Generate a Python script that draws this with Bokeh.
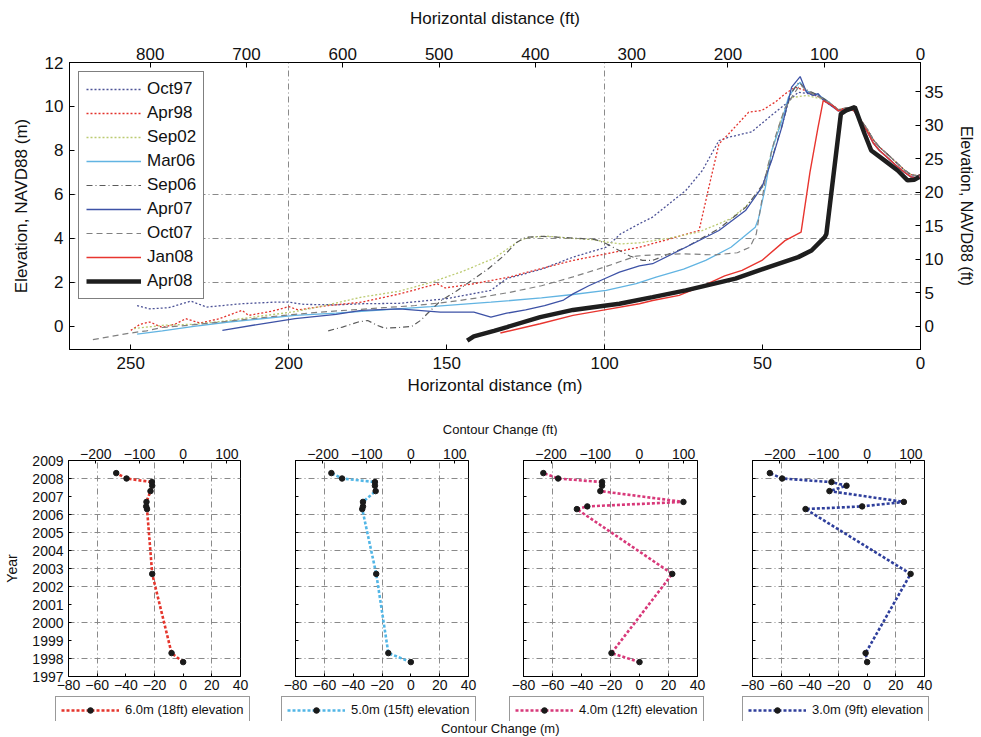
from bokeh.plotting import figure
from bokeh.models import Range1d, LinearAxis, FixedTicker, Legend, LegendItem, Label
from bokeh.layouts import column, row
from bokeh.embed import file_html
from bokeh.resources import INLINE

FONT = "Liberation Sans"
M2FT = 3.28084

# ---------------- top chart: horizontal distance (m) vs elevation (m) ----------------
tail_old_x = [26, 23, 21, 19, 17, 15, 13, 11, 8, 5, 3, 1, 0]
tail_old_z = [9.85, 9.95, 9.85, 9.4, 9.0, 8.5, 8.15, 7.9, 7.5, 7.1, 6.9, 6.85, 6.9]
tail_new_x = [26, 23, 21, 19, 17, 15, 13, 11, 8, 5, 3, 1, 0]
tail_new_z = [9.8, 9.9, 9.8, 9.3, 8.9, 8.35, 8.0, 7.75, 7.35, 7.0, 6.8, 6.75, 6.8]

oct97_x = [248, 244, 238, 231, 226, 215, 205, 200, 195, 185, 177, 165, 150, 136, 131, 120, 110, 99.5, 95, 89,
           84.8, 74.3, 69, 63.8, 60.7, 53.4, 48, 42.8, 38.7, 36, 32, 29] + tail_old_x
oct97_z = [0.95, 0.8, 0.85, 1.15, 0.88, 1.03, 1.1, 1.1, 1.0, 0.98, 1.03, 1.05, 1.26, 1.64, 2.17, 2.6, 3.15, 3.6, 4.2, 4.67,
           4.97, 6.18, 7.1, 8.45, 8.6, 8.85, 9.5, 10.1, 10.65, 10.6, 10.45, 10.1] + tail_old_z

apr98_x = [250, 247, 244, 240, 236, 232.6, 228, 222, 214.8, 212.7, 205, 200, 197, 187.5, 177, 164.5, 153, 150.5, 148, 141.4,
           130, 120.4, 110, 99.5, 89, 80, 70.1, 67, 63.8, 60.7, 54.4, 50.2, 46, 42.8, 39.7, 37, 33, 29] + tail_old_x
apr98_z = [-0.18, 0.1, 0.2, -0.05, 0.1, 0.35, 0.15, 0.35, 0.73, 0.5, 0.7, 0.9, 0.75, 0.95, 1.1, 1.49, 1.94, 1.75, 1.8, 1.94,
           2.25, 2.62, 3.0, 3.3, 3.6, 3.95, 4.36, 6.33, 8.3, 8.76, 9.74, 9.82, 10.2, 10.58, 10.88, 10.75, 10.5, 10.2] + tail_old_z

sep02_x = [249, 240, 230, 220, 210, 199, 190, 177, 165, 155, 145, 135, 127, 124, 118, 110, 104, 100, 95, 89,
           80, 70, 60, 55, 50, 47, 44, 41, 36, 30] + tail_old_x
sep02_z = [-0.1, 0.05, 0.1, 0.25, 0.45, 0.65, 0.9, 1.33, 1.6, 2.0, 2.5, 3.1, 3.9, 4.05, 4.1, 4.0, 3.95, 3.85, 3.75, 3.8,
           4.0, 4.3, 4.9, 5.5, 6.3, 8.0, 9.5, 10.4, 10.5, 10.3] + tail_old_z

mar06_x = [248, 240, 230, 219, 198, 185, 170, 155, 136, 120, 110, 99.5, 90, 83.7, 75, 68, 60, 52.3, 51.3, 49.1,
           47.1, 44, 41.8, 39.7, 38.1, 36, 32, 29] + tail_new_x
mar06_z = [-0.35, -0.2, 0.0, 0.2, 0.5, 0.6, 0.75, 0.9, 1.1, 1.3, 1.45, 1.64, 1.95, 2.24, 2.6, 3.0, 3.6, 4.51, 4.9, 6.33,
           8.0, 9.3, 10.42, 10.88, 11.1, 10.7, 10.5, 10.2] + tail_new_z

sep06_x = [187.5, 183, 178, 175, 172, 169.7, 165, 161, 158, 156, 152, 147, 142, 137, 132, 128, 125, 120, 114, 108,
           103, 100, 96, 92, 88, 84.8, 74.3, 63.8, 55.4, 50.2, 47.1, 43.9, 41, 38.5, 36, 33, 30] + tail_old_x
sep06_z = [-0.2, -0.03, 0.2, 0.27, 0.05, -0.08, -0.05, 0.0, 0.3, 0.6, 1.15, 1.6, 2.1, 2.6, 3.2, 3.8, 4.05, 4.1, 4.05, 4.0,
           3.95, 3.8, 3.5, 3.2, 3.0, 3.0, 3.6, 4.45, 5.4, 6.4, 7.6, 9.1, 10.6, 11.1, 10.75, 10.55, 10.3] + tail_old_z

apr07_x = [221, 208.5, 198, 185, 177, 165, 152, 141.4, 136, 131, 125, 119, 113, 110, 105, 99.5, 95.3, 89, 84.8, 74.3,
           63.8, 55.4, 50.2, 47.1, 43.9, 40.8, 38.1, 36.1, 34, 32.4, 30.8] + tail_new_x
apr07_z = [-0.18, 0.12, 0.35, 0.55, 0.73, 0.8, 0.65, 0.65, 0.42, 0.6, 0.75, 0.95, 1.2, 1.48, 1.85, 2.2, 2.47, 2.75, 2.85, 3.6,
           4.36, 5.27, 6.33, 7.55, 9.06, 10.88, 11.36, 10.65, 10.5, 10.58, 10.3] + tail_new_z

oct07_x = [262, 256, 250, 245, 240, 232, 225, 215, 205, 198, 190, 180, 170, 160, 150, 140, 130, 120, 110, 100,
           95, 90, 85, 75, 65, 58, 54, 52, 50.5, 48.5, 46, 43, 40, 38, 36, 33, 30] + tail_old_x
oct07_z = [-0.6, -0.45, -0.3, -0.2, -0.05, 0.05, 0.15, 0.3, 0.45, 0.55, 0.65, 0.75, 0.85, 0.95, 1.1, 1.3, 1.55, 1.85, 2.25, 2.7,
           2.95, 3.2, 3.25, 3.3, 3.25, 3.35, 3.6, 4.2, 5.5, 7.2, 8.6, 9.9, 10.6, 11.0, 10.7, 10.5, 10.3] + tail_old_z

jan08_x = [133, 131, 120.4, 110, 100, 89, 84.8, 76.4, 68, 62, 56.5, 50.2, 42.9, 37.8, 35, 32.5, 30.8, 28] + tail_new_x
jan08_z = [-0.3, -0.23, 0.12, 0.5, 0.75, 1.03, 1.18, 1.41, 1.9, 2.3, 2.55, 3.0, 3.9, 4.29, 7.0, 9.0, 10.27, 10.05] + tail_new_z

apr08_x = [143.5, 141.4, 135, 130.9, 120.4, 110, 99.5, 95.3, 84.8, 74.3, 58.6, 48.1, 38.7, 34.5, 30.3, 29.8,
           25.2, 23.5, 20.8, 17.7, 15.6, 11.4, 7.2, 4.1, 2.0, 0.4]
apr08_z = [-0.65, -0.45, -0.2, -0.03, 0.42, 0.75, 0.95, 1.03, 1.33, 1.64, 2.17, 2.70, 3.15, 3.45, 4.06, 4.2,
           9.67, 9.82, 9.97, 8.76, 8.0, 7.55, 7.09, 6.64, 6.67, 6.79]

survey_names = ["Oct97", "Apr98", "Sep02", "Mar06", "Sep06", "Apr07", "Oct07", "Jan08", "Apr08"]

# ---------------- bottom panels: contour change (m) by survey year ----------------
years = [1997.8, 1998.3, 2002.7, 2006.3, 2006.45, 2006.7, 2007.3, 2007.6, 2007.8, 2008.0, 2008.3]
chg_6m = [0, -8.1, -21.6, -25.2, -25.8, -25.6, -22.8, -21.6, -21.8, -39.5, -46.7]
chg_5m = [0, -15.6, -24.0, -33.7, -33.2, -33.2, -24.4, -24.9, -24.9, -47.7, -55.1]
chg_4m = [0, -19.3, 22.6, -43.2, -36.0, 30.3, -27.0, -25.8, -25.8, -56.1, -66.3]
chg_3m = [0, -1.1, 30.3, -43.0, -3.5, 25.6, -26.3, -14.4, -24.9, -59.3, -67.9]
panel_labels = ["6.0m (18ft) elevation", "5.0m (15ft) elevation", "4.0m (12ft) elevation", "3.0m (9ft) elevation"]
panel_colors = ["#e5352c", "#52b6e6", "#d8397a", "#2f3f9c"]

m_ticks = [0, 50, 100, 150, 200, 250]
ft_ticks = [0, 100, 200, 300, 400, 500, 600, 700, 800]
z_ticks = [0, 2, 4, 6, 8, 10, 12]
zft_ticks = [0, 5, 10, 15, 20, 25, 30, 35]
chg_m_ticks = [-80, -60, -40, -20, 0, 20, 40]
chg_ft_ticks = [-200, -100, 0, 100]
year_ticks = list(range(1997, 2010))

GRID_DASH = "6 3 1 3"
TXT = "#111111"


def style_axis(ax, size, label_size=None, tick_in=5):
    ax.major_tick_in = tick_in
    ax.major_tick_out = 0
    ax.minor_tick_in = 0
    ax.minor_tick_out = 0
    ax.axis_line_color = "black"
    ax.major_tick_line_color = "black"
    ax.major_label_text_font = FONT
    ax.major_label_text_font_size = size
    ax.major_label_text_color = TXT
    ax.axis_label_text_font = FONT
    ax.axis_label_text_font_size = label_size or size
    ax.axis_label_text_font_style = "normal"
    ax.axis_label_text_color = TXT


def style_grid(p):
    for g in list(p.xgrid) + list(p.ygrid):
        g.grid_line_color = "#8a8a8a"
        g.grid_line_dash = GRID_DASH
        g.grid_line_width = 1


def text_strip(width, height, text, x, y, size):
    s = figure(width=width, height=height, x_range=Range1d(0, width), y_range=Range1d(0, height),
               x_axis_type=None, y_axis_type=None, output_backend="svg", toolbar_location=None,
               min_border=0, outline_line_color=None)
    s.add_layout(Label(x=x, y=y, text=text, text_align="center", text_baseline="middle",
                       text_font=FONT, text_font_size=size, text_color=TXT))
    return s


# ---------------- top figure ----------------
top = figure(width=978, height=400, x_range=Range1d(269.4, 0), y_range=Range1d(-1.05, 12),
             output_backend="svg", toolbar_location=None,
             min_border_left=69, min_border_right=55, min_border_top=62, min_border_bottom=51)
top.extra_x_ranges = {"ft": Range1d(269.4 * M2FT, 0)}
top.extra_y_ranges = {"ft": Range1d(-1.05 * M2FT, 12 * M2FT)}
ax_bottom = top.below[0]
ax_left = top.left[0]
ax_bottom.axis_label = "Horizontal distance (m)"
ax_left.axis_label = "Elevation, NAVD88 (m)"
ax_bottom.ticker = FixedTicker(ticks=m_ticks)
ax_left.ticker = FixedTicker(ticks=z_ticks)
ax_top = LinearAxis(x_range_name="ft", axis_label="Horizontal distance (ft)", ticker=FixedTicker(ticks=ft_ticks))
ax_right = LinearAxis(y_range_name="ft", axis_label="Elevation, NAVD88 (ft)", ticker=FixedTicker(ticks=zft_ticks))
top.add_layout(ax_top, "above")
top.add_layout(ax_right, "right")
for ax in [ax_bottom, ax_left, ax_top]:
    style_axis(ax, "17px")
style_axis(ax_right, "17px", "16px")
ax_bottom.major_label_standoff = 7
ax_bottom.axis_label_standoff = 4
ax_top.major_label_standoff = 3
ax_top.axis_label_standoff = 17
ax_left.major_label_standoff = 6
ax_left.axis_label_standoff = 11
ax_right.major_label_standoff = 4
ax_right.axis_label_standoff = 12

top.xgrid.ticker = FixedTicker(ticks=[100, 200])
top.ygrid.ticker = FixedTicker(ticks=[2, 4, 6])
style_grid(top)
top.outline_line_color = "black"
top.outline_line_alpha = 1

styles = [
    (oct97_x, oct97_z, "#4c5296", "2 2", 1.3),
    (apr98_x, apr98_z, "#e3312b", "2 2", 1.3),
    (sep02_x, sep02_z, "#bccb72", "2 2", 1.3),
    (mar06_x, mar06_z, "#62b4e2", "solid", 1.3),
    (sep06_x, sep06_z, "#5a5a5a", "6 3 1 3", 1.2),
    (apr07_x, apr07_z, "#3d52a6", "solid", 1.3),
    (oct07_x, oct07_z, "#808080", "6 4", 1.2),
    (jan08_x, jan08_z, "#e8352f", "solid", 1.4),
    (apr08_x, apr08_z, "#1e1e1e", "solid", 4.5),
]
items = []
for name, (xs, zs, col, dash, lw) in zip(survey_names, styles):
    r = top.line(xs, zs, line_color=col, line_dash=dash, line_width=lw)
    items.append(LegendItem(label=name, renderers=[r]))

leg = Legend(items=items, location="top_left")
leg.label_text_font = FONT
leg.label_text_font_size = "17px"
leg.label_text_color = TXT
leg.glyph_width = 55
leg.glyph_height = 20
leg.label_height = 20
leg.label_standoff = 6
leg.spacing = 4
leg.padding = 7
leg.margin = 9
leg.border_line_color = "black"
leg.border_line_width = 1
leg.background_fill_alpha = 1
top.add_layout(leg)

# ---------------- label above the panels ----------------
strip_ft = text_strip(978, 36, "Contour Change (ft)", 495, 7, "13px")


# ---------------- bottom panels ----------------
def make_panel(width, bl, br, vals, color, first):
    p = figure(width=width, height=259, x_range=Range1d(-80, 40), y_range=Range1d(1997, 2009),
               output_backend="svg", toolbar_location=None,
               min_border_left=bl, min_border_right=br, min_border_top=24, min_border_bottom=19)
    p.extra_x_ranges = {"ft": Range1d(-80 * M2FT, 40 * M2FT)}
    axb = p.below[0]
    axl = p.left[0]
    axf = LinearAxis(x_range_name="ft", ticker=FixedTicker(ticks=chg_ft_ticks))
    p.add_layout(axf, "above")
    axb.ticker = FixedTicker(ticks=chg_m_ticks)
    axl.ticker = FixedTicker(ticks=year_ticks)
    for ax in [axb, axl, axf]:
        style_axis(ax, "14px", tick_in=3)
    axb.major_label_standoff = 3
    axf.major_label_standoff = 2
    axl.major_label_standoff = 5
    if first:
        axl.axis_label = "Year"
        axl.axis_label_standoff = 9
    else:
        axl.major_label_overrides = {y: "" for y in year_ticks}
    p.xgrid.ticker = FixedTicker(ticks=[-60, -20, 20])
    p.ygrid.ticker = FixedTicker(ticks=[1998, 2000, 2002, 2003, 2004, 2005, 2006, 2008])
    style_grid(p)
    p.outline_line_color = "black"
    p.outline_line_alpha = 1
    p.line(vals, years, line_color=color, line_dash="3 2", line_width=2.6)
    p.scatter(vals, years, size=5.5, fill_color="#1a1a1a", line_color="#1a1a1a")
    return p


def make_legend_strip(width, left, vals, color, label):
    # the panel's series is drawn again here far outside the visible range, only to feed the legend key
    s = figure(width=width, height=26, x_range=Range1d(500, 501), y_range=Range1d(0, 1),
               x_axis_type=None, y_axis_type=None, output_backend="svg", toolbar_location=None,
               min_border_left=left, min_border_right=0, min_border_top=1, min_border_bottom=0,
               outline_line_color=None)
    rl = s.line(vals, years, line_color=color, line_dash="3 2", line_width=2.6)
    rs = s.scatter(vals, years, size=5.5, fill_color="#1a1a1a", line_color="#1a1a1a")
    lg = Legend(items=[LegendItem(label=label, renderers=[rl, rs], index=0)], location="top_left")
    lg.label_text_font = FONT
    lg.label_text_font_size = "13px"
    lg.label_text_color = TXT
    lg.glyph_width = 58
    lg.glyph_height = 14
    lg.label_height = 14
    lg.label_standoff = 6
    lg.padding = 5
    lg.margin = 0
    lg.border_line_color = "#333333"
    lg.border_line_width = 1
    s.add_layout(lg)
    return s


p1 = make_panel(268, 68, 28, chg_6m, panel_colors[0], True)
p2 = make_panel(227, 27, 27, chg_5m, panel_colors[1], False)
p3 = make_panel(230, 28, 28, chg_4m, panel_colors[2], False)
p4 = make_panel(253, 27, 54, chg_3m, panel_colors[3], False)

l1 = make_legend_strip(268, 55, chg_6m, panel_colors[0], panel_labels[0])
l2 = make_legend_strip(227, 13, chg_5m, panel_colors[1], panel_labels[1])
l3 = make_legend_strip(230, 14, chg_4m, panel_colors[2], panel_labels[2])
l4 = make_legend_strip(253, 17, chg_3m, panel_colors[3], panel_labels[3])

strip_m = text_strip(978, 15, "Contour Change (m)", 495, 8.5, "13px")

layout = column(top, strip_ft, row(p1, p2, p3, p4, spacing=0), row(l1, l2, l3, l4, spacing=0),
                strip_m, spacing=0)
open("out.html", "w").write(file_html(layout, INLINE))
